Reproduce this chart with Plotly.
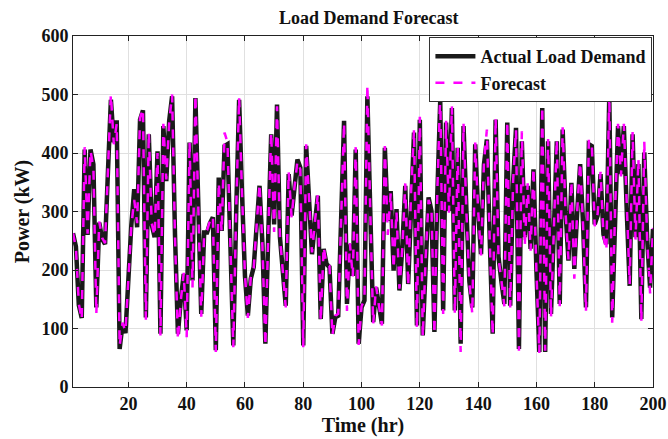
import plotly.graph_objects as go

hours = list(range(1, 201))

actual_load = [
    263, 240, 140, 118, 406, 260, 406, 381, 136, 281,
    253, 244, 369, 491, 418, 456, 65, 108, 92, 188,
    276, 338, 273, 457, 473, 119, 432, 278, 256, 403,
    91, 446, 352, 455, 497, 260, 91, 150, 193, 97,
    418, 182, 494, 310, 125, 264, 264, 280, 290, 63,
    358, 267, 412, 415, 240, 71, 300, 491, 330, 190,
    122, 185, 205, 273, 344, 244, 74, 260, 432, 278,
    483, 256, 200, 139, 364, 293, 340, 389, 375, 71,
    412, 320, 227, 280, 327, 116, 236, 210, 205, 91,
    119, 122, 300, 455, 142, 244, 190, 406, 74, 136,
    148, 497, 300, 111, 170, 140, 108, 409, 284, 335,
    199, 304, 165, 240, 344, 176, 330, 435, 105, 457,
    88, 220, 324, 301, 94, 330, 489, 131, 452, 301,
    477, 131, 409, 74, 446, 300, 180, 136, 415, 300,
    227, 380, 423, 250, 91, 457, 222, 180, 142, 452,
    139, 350, 443, 65, 420, 256, 344, 236, 372, 200,
    60, 477, 60, 420, 125, 270, 420, 142, 440, 300,
    216, 349, 202, 300, 381, 280, 136, 415, 412, 278,
    293, 364, 261, 244, 497, 119, 300, 446, 364, 446,
    300, 173, 432, 256, 381, 116, 401, 253, 170, 270,
]

forecast = [
    263, 238, 142, 115, 410, 262, 404, 375, 125, 283,
    255, 246, 372, 500, 415, 450, 70, 110, 95, 190,
    274, 320, 280, 460, 476, 115, 436, 280, 258, 400,
    88, 450, 355, 452, 500, 255, 80, 148, 195, 85,
    420, 170, 500, 305, 120, 262, 268, 284, 292, 60,
    350, 265, 435, 418, 238, 68, 305, 495, 328, 192,
    118, 188, 203, 276, 348, 240, 70, 262, 436, 265,
    480, 258, 198, 136, 368, 290, 342, 386, 372, 68,
    415, 318, 230, 282, 330, 112, 240, 208, 207, 88,
    122, 125, 302, 452, 130, 246, 188, 410, 72, 138,
    150, 517, 298, 108, 172, 138, 105, 412, 260, 332,
    202, 300, 168, 238, 348, 172, 334, 440, 100, 462,
    85, 222, 320, 304, 90, 335, 500, 125, 455, 298,
    480, 125, 412, 60, 450, 296, 178, 125, 418, 302,
    225, 384, 440, 248, 88, 460, 220, 182, 138, 455,
    136, 352, 440, 62, 437, 240, 348, 233, 375, 198,
    58, 480, 62, 424, 120, 272, 424, 138, 444, 298,
    218, 352, 185, 302, 384, 276, 130, 423, 416, 275,
    296, 368, 258, 233, 500, 110, 305, 450, 360, 450,
    298, 176, 436, 252, 390, 112, 420, 250, 160, 272,
]

serif = "Liberation Serif, Times New Roman, serif"

fig = go.Figure()
fig.add_trace(go.Scatter(
    x=hours, y=actual_load, mode="lines", name="Actual Load Demand",
    line=dict(color="#1a1a1a", width=4.5),
))
fig.add_trace(go.Scatter(
    x=hours, y=forecast, mode="lines", name="Forecast",
    line=dict(color="#ff00ff", width=2.5, dash="dash"),
))

axis_common = dict(
    showline=True, linecolor="#222222", linewidth=1, mirror="ticks",
    ticks="inside", ticklen=5, tickcolor="#222222",
    showgrid=True, gridcolor="#e0e0e0", gridwidth=1, zeroline=False,
    automargin=False,
    tickfont=dict(family=serif, size=18, color="#111111", weight="bold"),
)

fig.update_layout(
    width=668, height=439,
    margin=dict(l=73, r=15, t=36, b=52, autoexpand=False),
    paper_bgcolor="white", plot_bgcolor="white",
    title=dict(text="Load Demand Forecast", x=0.552, xanchor="center",
               yref="container", y=0.959, yanchor="middle",
               font=dict(family=serif, size=18, color="#111111", weight="bold")),
    xaxis=dict(range=[1, 200], tickvals=[20, 40, 60, 80, 100, 120, 140, 160, 180, 200],
               title=dict(text="Time (hr)", font=dict(family=serif, size=20, color="#111111", weight="bold"),
                          standoff=4),
               **axis_common),
    yaxis=dict(range=[0, 600], dtick=100,
               title=dict(text="Power (kW)", font=dict(family=serif, size=20, color="#111111", weight="bold"),
                          standoff=6),
               **axis_common),
    legend=dict(x=0.999, y=0.997, xanchor="right", yanchor="top",
                bgcolor="white", bordercolor="#333333", borderwidth=1,
                font=dict(family=serif, size=18, color="#111111", weight="bold"),
                tracegroupgap=0, itemwidth=40),
    showlegend=True,
)

fig.write_html(
    "out.html",
    config={"displayModeBar": False},
    post_script="document.body.style.margin='0';document.body.style.overflow='hidden';",
)
